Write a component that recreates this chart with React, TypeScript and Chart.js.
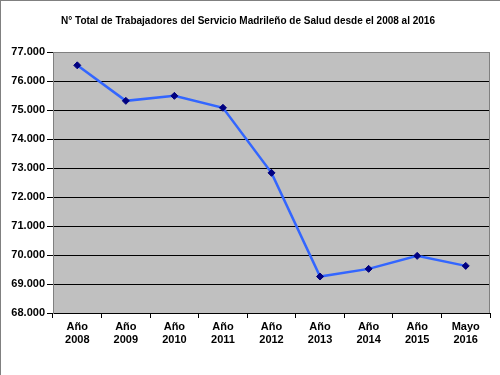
import React, { useEffect, useRef } from "react";
import { Chart, registerables } from "chart.js";

Chart.register(...registerables);

const titleText = "N° Total de Trabajadores del Servicio Madrileño de Salud desde el 2008 al 2016";
const categories: string[][] = [
  ["Año", "2008"],
  ["Año", "2009"],
  ["Año", "2010"],
  ["Año", "2011"],
  ["Año", "2012"],
  ["Año", "2013"],
  ["Año", "2014"],
  ["Año", "2015"],
  ["Mayo", "2016"],
];
const workers: number[] = [76540, 75316, 75488, 75076, 72832, 69258, 69522, 69970, 69625];
const yMin = 68000;
const yMax = 77000;
const yStep = 1000;

const fmt = (v: number) => {
  const s = Math.round(v).toString();
  return s.replace(/\B(?=(\d{3})+(?!\d))/g, ".");
};

const FONT = "'Liberation Sans', Arial, sans-serif";

export default function App() {
  const ref = useRef<HTMLCanvasElement | null>(null);
  useEffect(() => {
    document.body.style.margin = "0";
    const canvas = ref.current!;
    const plotBg = {
      id: "plotBg",
      beforeDraw(chart: any) {
        const { ctx, chartArea: a } = chart;
        ctx.save();
        ctx.fillStyle = "#C0C0C0";
        ctx.fillRect(a.left, a.top, a.right - a.left, a.bottom - a.top);
        ctx.restore();
      },
      afterDraw(chart: any) {
        const { ctx, chartArea: a } = chart;
        ctx.save();
        ctx.strokeStyle = "#808080";
        ctx.lineWidth = 1;
        ctx.beginPath();
        ctx.moveTo(a.left + 0.5, a.bottom);
        ctx.lineTo(a.left + 0.5, a.top + 0.5);
        ctx.lineTo(a.right - 0.5, a.top + 0.5);
        ctx.lineTo(a.right - 0.5, a.bottom);
        ctx.stroke();
        ctx.fillStyle = "#000";
        ctx.font = "bold 10px " + FONT;
        ctx.textAlign = "center";
        ctx.textBaseline = "middle";
        ctx.fillText(titleText, 247, 20);
        ctx.restore();
      },
    };
    const chart = new Chart(canvas, {
      type: "line",
      data: {
        labels: categories as any,
        datasets: [
          {
            data: workers,
            borderColor: "#3366FF",
            borderWidth: 2.5,
            pointStyle: "rectRot",
            pointRadius: 3.5,
            pointBackgroundColor: "#000080",
            pointBorderColor: "#000080",
            pointBorderWidth: 1,
            tension: 0,
          },
        ],
      },
      options: {
        animation: false,
        responsive: false,
        layout: { padding: { top: 51, right: 10, left: 0, bottom: 0 } },
        plugins: { legend: { display: false }, title: { display: false }, tooltip: { enabled: false } },
        scales: {
          x: {
            offset: true,
            grid: {
              offset: true,
              drawOnChartArea: false,
              drawTicks: true,
              tickLength: 5,
              color: "#000",
            },
            border: { color: "#000", width: 1 },
            ticks: {
              color: "#000",
              font: { family: FONT, size: 11, weight: "bold" },
              padding: 2,
              maxRotation: 0,
              autoSkip: false,
            },
            afterFit(scale: any) {
              scale.height = 62;
            },
          },
          y: {
            min: yMin,
            max: yMax,
            grid: {
              color: (c: any) => (c.tick && c.tick.value === yMax ? "#808080" : "#000"),
              tickLength: 6,
              drawTicks: true,
              tickColor: "#000",
            },
            border: { color: "#808080", width: 1 },
            ticks: {
              stepSize: yStep,
              color: "#000",
              font: { family: FONT, size: 11, weight: "bold" },
              padding: 2,
              callback: (v: any) => fmt(Number(v)),
            },
            afterFit(scale: any) {
              scale.width = 52;
            },
          },
        },
      },
      plugins: [plotBg],
    });
    return () => chart.destroy();
  }, []);
  return (
    <div
      style={{
        width: 500,
        height: 375,
        boxSizing: "border-box",
        borderTop: "1px solid #808080",
        borderLeft: "1px solid #808080",
        background: "#fff",
        position: "relative",
      }}
    >
      <canvas ref={ref} width={499} height={374} style={{ display: "block" }} />
    </div>
  );
}
